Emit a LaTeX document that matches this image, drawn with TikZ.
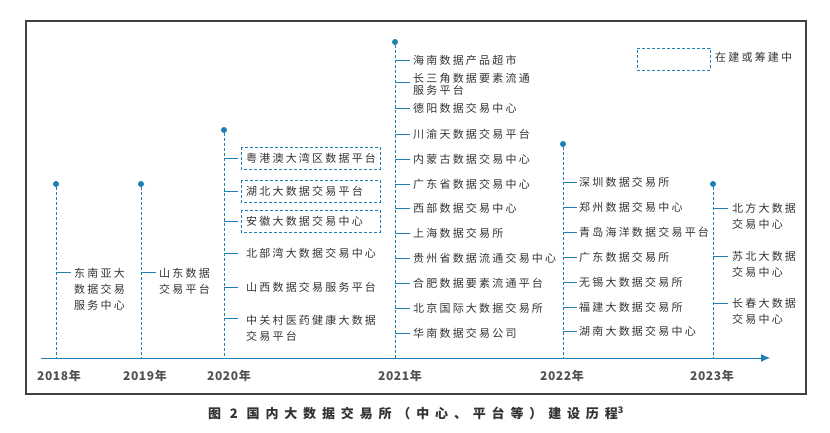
\documentclass[tikz,border=0pt]{standalone}
\usetikzlibrary{arrows.meta}
\usepackage{fontspec}
\setmainfont{Noto Sans CJK SC}[LetterSpace=20]
\newfontfamily\yearfont{Noto Sans CJK SC}[LetterSpace=5]
\newfontfamily\capfont{Noto Sans CJK SC}[LetterSpace=45]
\definecolor{tl}{HTML}{1F7FB5}
\definecolor{tx}{HTML}{333333}
\begin{document}
\begin{tikzpicture}[x=1pt,y=-1pt,
  vline/.style={tl,densely dashed,line width=0.9pt},
  tick/.style={tl,line width=0.9pt},
  dotm/.style={circle,fill=tl,inner sep=0pt,minimum size=6pt},
  lab/.style={anchor=west,inner sep=0pt,text=tx,font=\fontsize{11}{16}\selectfont,align=left},
  yr/.style={text=tx!85,font=\yearfont\fontsize{12}{14}\selectfont\bfseries},
  dbox/.style={draw=tl,densely dashed,line width=0.8pt}]
\useasboundingbox (0,0) rectangle (830,432);
\draw[line width=1.2pt,black!75] (26,21) rectangle (806,394);
\coordinate (ax0) at (41,358);
\coordinate (ax1) at (770,358);
\draw[tl,line width=1pt,-{Latex[length=9pt,width=8pt]}] (ax0) -- (ax1);
% years
\foreach \n/\x/\top in {a/56/184,b/141/184,c/224/130,d/395/42,e/563/144,f/713/184}{
  \node[dotm] (d\n) at (\x,\top) {};
  \coordinate (b\n) at (\x,358);
  \draw[vline] (d\n) -- (b\n);
}
\node[yr] (y1) at (59,376) {2018年};
\node[yr] (y2) at (145,376) {2019年};
\node[yr] (y3) at (229,376) {2020年};
\node[yr] (y4) at (400,376) {2021年};
\node[yr] (y5) at (562,376) {2022年};
\node[yr] (y6) at (712,376) {2023年};
% 2018
\coordinate (t18) at (56,272);
\node[lab] (n18) at (74,289) {东南亚大\\数据交易\\服务中心};
\draw[tick] (t18) -- (71,272);
% 2019
\coordinate (t19) at (141,272);
\node[lab] (n19) at (159,281) {山东数据\\交易平台};
\draw[tick] (t19) -- (156,272);
% 2020
\foreach \i/\y/\t in {1/158/粤港澳大湾区数据平台,2/191/湖北大数据交易平台,3/221/安徽大数据交易中心,4/253/北部湾大数据交易中心,5/287/山西数据交易服务平台}{
  \coordinate (c\i) at (224,\y);
  \node[lab] (m\i) at (246,\y) {\t};
  \draw[tick] (c\i) -- (238,\y);
}
\coordinate (c6) at (224,318);
\node[lab] (m6) at (246,328) {中关村医药健康大数据\\交易平台};
\draw[tick] (c6) -- (238,318);
\foreach \y in {158,191,221}{\draw[dbox] (241,\y-11) rectangle (380,\y+11);}
% 2021
\foreach \i/\y/\t in {1/60/海南数据产品超市,3/108/德阳数据交易中心,4/134/川渝天数据交易平台,5/159/内蒙古数据交易中心,6/184/广东省数据交易中心,7/208/西部数据交易中心,8/233/上海数据交易所,9/258/贵州省数据流通交易中心,10/283/合肥数据要素流通平台,11/308/北京国际大数据交易所,12/333/华南数据交易公司}{
  \coordinate (e\i) at (395,\y);
  \node[lab] (p\i) at (413,\y) {\t};
  \draw[tick] (e\i) -- (410,\y);
}
\coordinate (e2) at (395,82);
\node[lab,font=\fontsize{11}{12}\selectfont] (p2) at (413,84) {长三角数据要素流通\\服务平台};
\draw[tick] (e2) -- (410,82);
% 2022
\foreach \i/\y/\t in {1/182/深圳数据交易所,2/207/郑州数据交易中心,3/232/青岛海洋数据交易平台,4/257/广东数据交易所,5/282/无锡大数据交易所,6/307/福建大数据交易所,7/331/湖南大数据交易中心}{
  \coordinate (g\i) at (563,\y);
  \node[lab] (q\i) at (579,\y) {\t};
  \draw[tick] (g\i) -- (577,\y);
}
% 2023
\foreach \i/\y/\t in {1/208/北方大数据,2/256/苏北大数据,3/303/长春大数据}{
  \coordinate (h\i) at (713,\y);
  \node[lab] (r\i) at (732,\y+8) {\t\\交易中心};
  \draw[tick] (h\i) -- (728,\y);
}
% legend
\node[dbox,minimum width=73pt,minimum height=22pt,inner sep=0pt] (leg) at (673.5,59) {};
\node[lab] (legt) at (715,57) {在建或筹建中};
% caption
\node[text=tx,font=\capfont\fontsize{13}{15}\selectfont\bfseries] (cap) at (416,413) {图 2 国内大数据交易所（中心、平台等）建设历程\textsuperscript{3}};
\end{tikzpicture}
\end{document}
